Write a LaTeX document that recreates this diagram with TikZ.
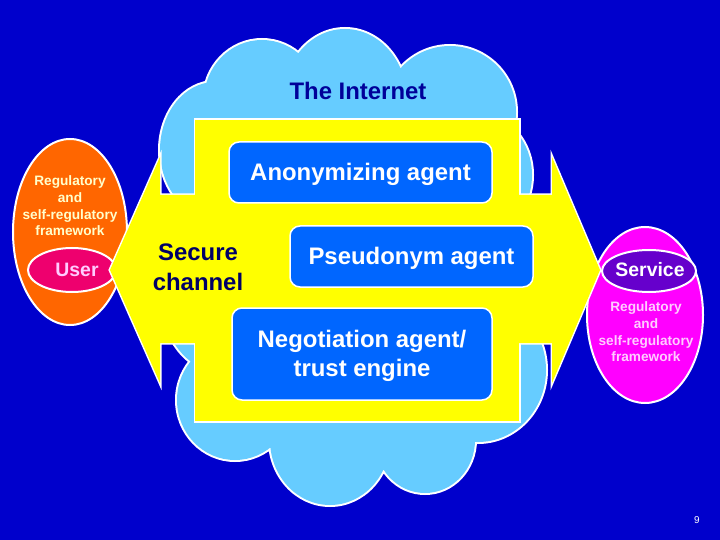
\documentclass[tikz,border=0pt]{standalone}
\usepackage{fontspec}
\setmainfont{Liberation Sans}
\definecolor{bg}{RGB}{0,0,204}
\definecolor{cloudc}{RGB}{102,204,255}
\definecolor{yel}{RGB}{255,255,0}
\definecolor{agentc}{RGB}{0,102,255}
\definecolor{orng}{RGB}{255,102,0}
\definecolor{usrc}{RGB}{238,0,110}
\definecolor{magc}{RGB}{255,0,255}
\definecolor{svcc}{RGB}{102,0,204}
\definecolor{navyc}{RGB}{0,0,102}
\definecolor{inetc}{RGB}{0,0,153}
\definecolor{creamc}{RGB}{255,255,204}
\definecolor{pinkc}{RGB}{255,204,255}
\newcommand\mycloud{%
  (262,100) ellipse [x radius=58bp, y radius=60bp]
  (345,100) ellipse [x radius=62bp, y radius=71bp]
  (450,112) ellipse [x radius=66bp, y radius=66bp]
  (480,175) ellipse [x radius=52bp, y radius=60bp]
  (490,270) ellipse [x radius=60bp, y radius=100bp]
  (478,370) ellipse [x radius=68bp, y radius=72bp]
  (425,440) ellipse [x radius=50bp, y radius=53bp]
  (330,440) ellipse [x radius=60bp, y radius=65bp]
  (235,400) ellipse [x radius=58bp, y radius=60bp]
  (215,270) ellipse [x radius=60bp, y radius=100bp]
  (215,150) ellipse [x radius=55bp, y radius=68bp]
  (355,270) ellipse [x radius=170bp, y radius=180bp]}
\newcommand\myarrow{(110,270) -- (160,157) -- (160,195) -- (552,195) -- (552,157) -- (600,270) -- (552,383) -- (552,343) -- (160,343) -- (160,383) -- cycle}
\newcommand\myrect{(195,120) rectangle (519,421)}
\begin{document}
\begin{tikzpicture}[x=1bp,y=-1bp,
  agentbox/.style={draw=white, line width=1.5bp, fill=agentc, rounded corners=10bp,
    text=white, font=\bfseries\fontsize{24}{29}\selectfont, align=center, inner sep=0pt},
  agenttext/.style={text=white, font=\bfseries\fontsize{24}{29}\selectfont, align=center, inner sep=0pt},
  smalltext/.style={font=\bfseries\fontsize{13.7}{16.7}\selectfont, align=center, inner sep=0pt},
  ovaltext/.style={font=\bfseries\fontsize{19.5}{22}\selectfont, inner sep=0pt},
  ovalline/.style={draw=white, line width=2bp}]
\useasboundingbox (0,0) rectangle (720,540);
\fill[bg] (0,0) rectangle (720,540);
% cloud
\draw[white, line width=4bp] \mycloud;
\fill[cloudc] \mycloud;
\node[font=\bfseries\fontsize{24}{28}\selectfont, text=inetc, inner sep=0pt] (inet) at (358,91) {The Internet};
% left ovals
\filldraw[ovalline, fill=orng] (70,232) ellipse [x radius=57bp, y radius=93bp];
\node[smalltext, text=creamc] (lreg) at (70,206) {Regulatory\\and\\self-regulatory\\framework};
\filldraw[ovalline, fill=usrc] (72,270) ellipse [x radius=44bp, y radius=22bp];
\node[ovaltext, text=pinkc] (user) at (77,270) {User};
% right ovals
\filldraw[ovalline, fill=magc] (645,315) ellipse [x radius=58bp, y radius=88bp];
\filldraw[ovalline, fill=svcc] (649,271) ellipse [x radius=47bp, y radius=21bp];
\node[ovaltext, text=white] (service) at (650,270) {Service};
\node[smalltext, text=pinkc] (rreg) at (646,332) {Regulatory\\and\\self-regulatory\\framework};
% yellow arrow
\draw[white, line width=3bp] \myarrow;
\draw[white, line width=3bp] \myrect;
\fill[yel] \myarrow;
\fill[yel] \myrect;
\node[font=\bfseries\fontsize{24}{30}\selectfont, text=navyc, align=center, inner sep=0pt] (secure) at (198,267) {Secure\\channel};
% agents
\node[agentbox, minimum width=263bp, minimum height=61bp, text height=22bp, text depth=5bp] (anon) at (360.5,172.5) {Anonymizing agent};
\node[agentbox, minimum width=243bp, minimum height=61bp, text height=22bp, text depth=5bp] (pseudo) at (411.5,256.5) {Pseudonym agent};
\node[agentbox, minimum width=260bp, minimum height=92bp] (nego) at (362,354) {};
\node[agenttext] (negotext) at (362,356.3) {Negotiation agent/\\trust engine};
\node[text=white, font=\fontsize{10}{12}\selectfont, inner sep=0pt] (page) at (697,520) {9};
\end{tikzpicture}
\end{document}
